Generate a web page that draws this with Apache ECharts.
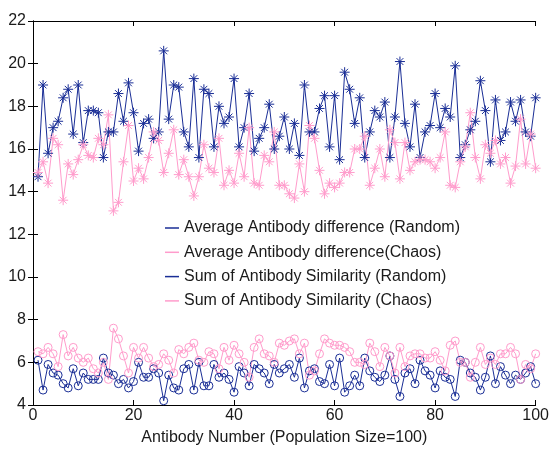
<!DOCTYPE html>
<html>
<head>
<meta charset="utf-8">
<script src="https://cdn.jsdelivr.net/npm/echarts@6/dist/echarts.min.js"></script>
<style>
html,body{margin:0;padding:0;background:#fff;}
#chart{width:552px;height:451px;}
</style>
</head>
<body>
<div id="chart"></div>
<script>
// x values are antibody numbers 1..100
var xTicks = [0, 20, 40, 60, 80, 100];
var yTicks = [4, 6, 8, 10, 12, 14, 16, 18, 20, 22];

var seriesNames = [
  'Average Antibody difference (Random)',
  'Average Antibody difference(Chaos)',
  'Sum of Antibody Similarity (Random)',
  'Sum of Antibody Similarity (Chaos)'
];

var avgRandom = [
  6.1,4.7,5.9,5.5,5.4,5.0,4.8,5.7,4.9,5.5,
  5.2,5.2,5.2,6.2,5.5,5.4,5.0,5.2,4.8,5.1,
  6.0,5.3,5.3,5.7,5.5,4.2,5.4,4.8,4.7,5.7,
  5.9,4.7,6.0,4.9,4.9,5.9,5.3,5.5,5.2,4.6,
  5.8,5.5,4.9,5.9,5.7,5.5,5.0,5.9,5.5,5.7,
  5.9,5.3,6.2,4.8,5.6,5.7,5.1,5.0,5.9,4.9,
  6.2,4.6,4.9,5.4,4.9,6.2,5.6,5.3,5.1,5.4,
  6.3,5.2,4.4,5.5,5.7,5.0,6.1,5.6,5.4,4.8,
  5.6,5.3,5.2,4.4,6.1,6.0,5.5,5.3,4.7,5.3,
  6.3,5.0,5.8,5.4,5.0,5.4,5.2,5.5,5.8,5.0
];

var avgChaos = [
  6.5,6.4,6.7,6.4,5.8,7.3,6.3,6.7,6.2,6.0,
  6.2,5.7,5.5,6.0,5.2,7.6,7.1,6.3,5.5,6.7,
  6.2,6.7,6.2,5.8,5.9,6.4,6.1,5.5,6.6,6.4,
  6.7,6.9,6.1,6.0,6.5,6.4,5.7,6.7,6.1,6.8,
  6.4,6.0,5.3,6.7,7.1,6.4,6.3,6.0,6.9,6.8,
  7.0,7.1,6.4,6.9,5.4,5.6,6.4,7.1,6.9,6.8,
  6.8,6.7,6.5,6.0,6.0,5.9,6.9,6.5,5.8,6.7,
  6.3,5.5,6.7,5.8,6.3,6.4,6.4,6.2,6.2,6.5,
  6.1,5.6,6.8,7.0,6.0,6.0,5.3,6.0,6.7,5.9,
  6.2,5.9,6.4,6.4,6.7,6.4,5.2,5.9,5.7,6.4
];

var sumRandom = [
  14.7,19.0,15.8,17.0,17.3,18.4,18.8,16.7,19.0,16.3,
  17.8,17.8,17.7,15.6,16.8,16.8,18.6,17.3,19.1,17.7,
  15.9,17.2,17.4,16.5,16.8,20.6,17.4,19.0,18.9,16.8,
  16.1,19.3,15.6,18.8,18.6,16.1,18.0,17.2,17.5,19.3,
  16.1,17.0,18.6,15.9,16.5,17.0,18.1,16.0,16.6,17.5,
  16.0,17.2,15.7,19.0,16.8,16.8,17.9,18.5,16.1,18.5,
  15.5,19.6,18.8,17.2,18.4,15.6,16.8,17.8,17.5,18.2,
  15.6,17.5,20.1,17.2,16.1,18.1,15.6,16.8,17.1,18.6,
  17.0,17.9,17.5,19.9,15.6,16.2,16.9,17.3,19.2,17.8,
  15.4,18.3,16.4,16.8,18.2,17.3,18.3,16.8,16.6,18.4
];

var sumChaos = [
  14.9,15.4,14.4,16.5,16.2,13.6,15.3,14.8,15.5,16.2,
  15.7,15.6,16.5,16.2,17.6,13.1,13.5,15.4,17.1,14.5,
  15.1,14.6,15.6,16.8,16.4,14.9,15.8,16.9,14.8,15.5,
  14.7,13.8,14.7,16.2,15.1,14.9,16.5,14.3,15.0,14.4,
  15.8,14.7,17.0,14.4,14.3,15.7,15.4,16.8,14.3,14.3,
  13.9,13.7,15.3,14.0,17.1,16.5,15.0,13.9,14.4,14.2,
  14.4,14.9,14.9,16.0,16.0,16.6,14.3,15.1,16.0,14.7,
  16.9,16.3,14.6,16.3,15.0,15.4,15.5,15.5,15.4,15.1,
  15.6,16.8,14.3,14.2,15.4,16.1,17.7,15.6,14.6,16.2,
  15.8,16.4,15.3,15.6,14.4,15.2,17.4,15.3,16.7,15.1
];

function pairs(arr){ return arr.map(function(v,i){ return [i+1, v]; }); }

var BLUE = '#1a2e96';
var PINK = '#ff9ccc';
var STAR = 'path://M0,5L10,5M5,0L5,10M1.6,1.6L8.4,8.4M8.4,1.6L1.6,8.4';
var FONT = 'Liberation Sans, Arial, sans-serif';
var TXT = '#1a1a1a';

function mkSeries(name, data, color, symbol, size){
  return {
    name: name, type: 'line', data: pairs(data),
    symbol: symbol, symbolSize: size, showSymbol: true,
    lineStyle: {color: color, width: 1},
    itemStyle: {color: symbol === 'circle' ? 'transparent' : color, borderColor: color, borderWidth: 1},
    emphasis: {disabled: true},
    animation: false, clip: false
  };
}

var chart = echarts.init(document.getElementById('chart'), null, {renderer: 'canvas'});
var axisLine = {show: true, lineStyle: {color: '#000', width: 1}};
chart.setOption({
  backgroundColor: '#fff',
  animation: false,
  grid: {left: 33, right: 13, top: 21, bottom: 46, show: false},
  legend: {
    orient: 'vertical', left: 160, top: 215,
    itemWidth: 14, itemHeight: 1.5, itemGap: 8.3,
    icon: 'rect',
    textStyle: {fontFamily: FONT, fontSize: 16, color: TXT, lineHeight: 16},
    data: seriesNames.map(function(n, i){
      return {name: n, icon: 'rect', itemStyle: {color: (i % 2 === 0) ? BLUE : PINK, borderWidth: 0}};
    }),
    selectedMode: false
  },
  xAxis: [{
    type: 'value', min: xTicks[0], max: xTicks[xTicks.length-1], interval: 20,
    name: 'Antibody Number (Population Size=100)', nameLocation: 'middle', nameGap: 25,
    nameTextStyle: {fontFamily: FONT, fontSize: 16, color: TXT},
    axisLine: axisLine, axisTick: {show: true, inside: true, length: 5, lineStyle: {color: '#000'}},
    axisLabel: {fontFamily: FONT, fontSize: 16, color: TXT, margin: 3},
    splitLine: {show: false}
  }, {
    type: 'value', position: 'top', min: 0, max: 100, interval: 20,
    axisLine: axisLine, axisTick: {show: true, inside: true, length: 5, lineStyle: {color: '#000'}},
    axisLabel: {show: false}, splitLine: {show: false}
  }],
  yAxis: [{
    type: 'value', min: yTicks[0], max: yTicks[yTicks.length-1], interval: 2,
    axisLine: axisLine, axisTick: {show: true, inside: true, length: 5, lineStyle: {color: '#000'}},
    axisLabel: {fontFamily: FONT, fontSize: 16, color: TXT, margin: 7},
    splitLine: {show: false}
  }, {
    type: 'value', position: 'right', min: 4, max: 22, interval: 2,
    axisLine: axisLine, axisTick: {show: true, inside: true, length: 5, lineStyle: {color: '#000'}},
    axisLabel: {show: false}, splitLine: {show: false}
  }],
  series: [
    mkSeries(seriesNames[0], avgRandom, BLUE, 'circle', 8),
    mkSeries(seriesNames[1], avgChaos, PINK, 'circle', 8),
    mkSeries(seriesNames[2], sumRandom, BLUE, STAR, 10),
    mkSeries(seriesNames[3], sumChaos, PINK, STAR, 10)
  ]
});
</script>
</body>
</html>
